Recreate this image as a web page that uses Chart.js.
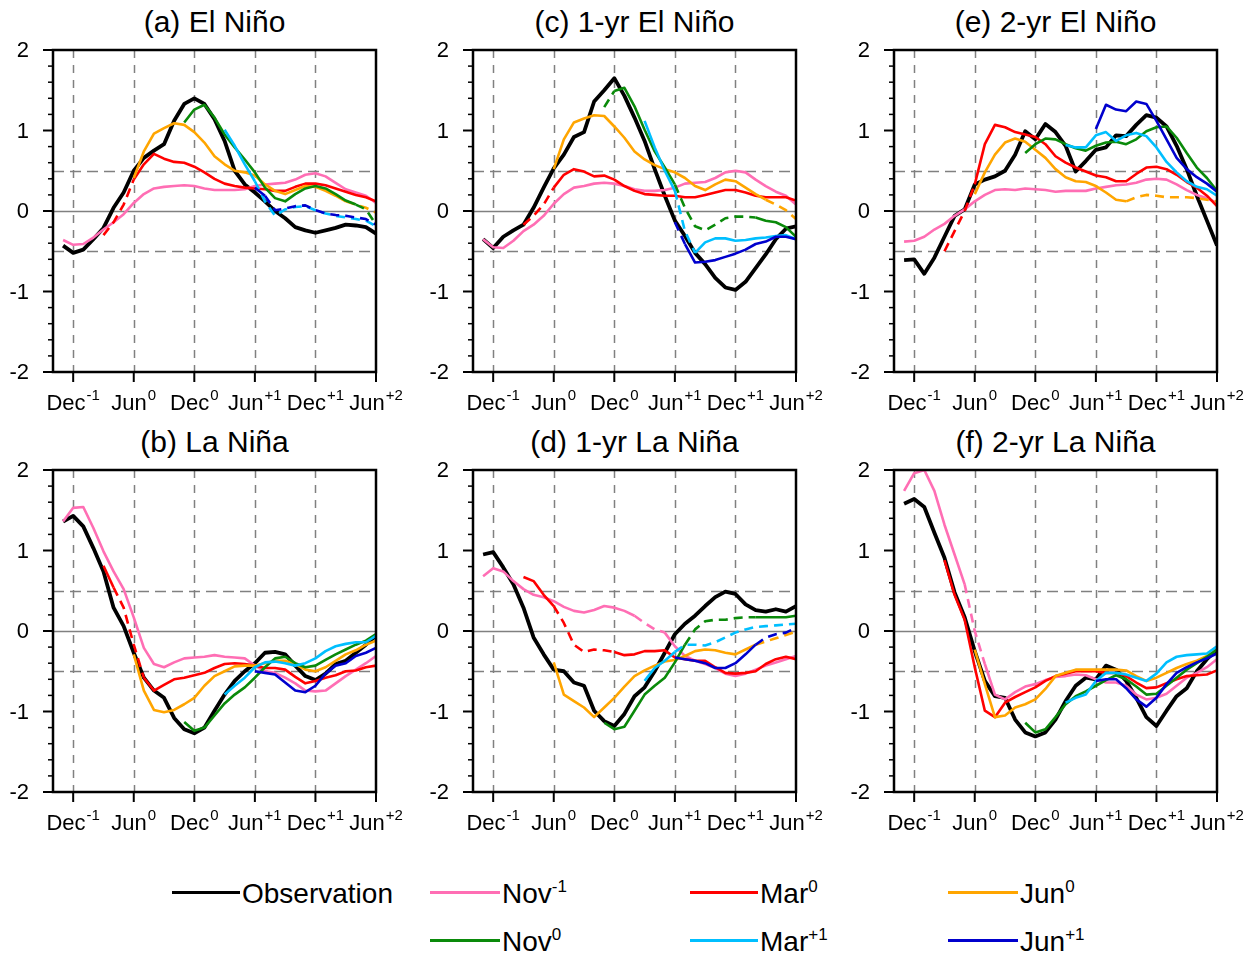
<!DOCTYPE html>
<html><head><meta charset="utf-8">
<script src="https://cdn.jsdelivr.net/npm/chart.js@4.4.1/dist/chart.umd.min.js"></script>
<style>
body{margin:0;background:#fff;width:1256px;height:955px;position:relative;overflow:hidden;font-family:"Liberation Sans",Arial,Helvetica,sans-serif;color:#000;}
canvas{position:absolute;}
.title{position:absolute;width:323px;text-align:center;font-size:30px;line-height:30px;white-space:nowrap;}
.legline{position:absolute;height:3px;}
.legtxt{position:absolute;font-size:28px;line-height:28px;white-space:nowrap;}
.legtxt sup{font-size:17px;vertical-align:11px;line-height:0;}
</style></head>
<body>
<script>
// ---- month axis: index 1..32 = Nov(-1) ... Jun(+2); axis runs 0 (Oct-1) .. 32 (Jun+2)
const monthLabels = ['Nov-1','Dec-1','Jan0','Feb0','Mar0','Apr0','May0','Jun0','Jul0','Aug0','Sep0','Oct0','Nov0','Dec0',
  'Jan+1','Feb+1','Mar+1','Apr+1','May+1','Jun+1','Jul+1','Aug+1','Sep+1','Oct+1','Nov+1','Dec+1',
  'Jan+2','Feb+2','Mar+2','Apr+2','May+2','Jun+2'];
const xTickPos  = [2, 8, 14, 20, 26, 32];
const xTickMain = ['Dec','Jun','Dec','Jun','Dec','Jun'];
const xTickSup  = ['-1','0','0','+1','+1','+2'];
const yTicks    = [-2, -1, 0, 1, 2];
const refLevels = [-0.5, 0, 0.5];

const seriesNames = ['Observation','Nov-1','Mar0','Jun0','Nov0','Mar+1','Jun+1'];
const seriesStart = ['Nov-1','Nov-1','Mar0','Jun0','Nov0','Mar+1','Jun+1'];

// ---- (a) El Niño
const aObs   = [-0.43,-0.52,-0.48,-0.35,-0.21,0.04,0.23,0.5,0.66,0.75,0.83,1.12,1.33,1.40,1.33,1.14,0.87,0.5,0.33,0.23,0.12,0,-0.09,-0.2,-0.24,-0.27,-0.24,-0.21,-0.17,-0.18,-0.2,-0.28];
const aNovM1 = [-0.36,-0.42,-0.41,-0.33,-0.23,-0.14,-0.04,0.1,0.21,0.28,0.30,0.31,0.32,0.31,0.28,0.26,0.26,0.26,0.27,0.31,0.33,0.34,0.35,0.39,0.45,0.47,0.43,0.35,0.27,0.23,0.19,0.1];
const aMar0  = [-0.3,-0.14,0.08,0.39,0.58,0.71,0.65,0.61,0.6,0.55,0.48,0.4,0.34,0.31,0.29,0.28,0.27,0.25,0.25,0.3,0.34,0.34,0.32,0.28,0.24,0.2,0.17,0.12];
const aJun0  = [0.41,0.74,0.96,1.03,1.09,1.07,0.98,0.85,0.68,0.58,0.5,0.48,0.44,0.33,0.25,0.21,0.26,0.31,0.30,0.25,0.19,0.12,0.08,0.04,-0.02];
const aNov0  = [1.1,1.26,1.32,1.16,0.95,0.79,0.64,0.48,0.29,0.16,0.12,0.21,0.28,0.31,0.28,0.21,0.13,0.08,0.02,-0.17];
const aMarP1 = [1.01,0.81,0.58,0.37,0.12,-0.06,0.02,0.05,0.06,0.01,-0.03,-0.06,-0.08,-0.1,-0.12,-0.19];
const aJunP1 = [0.29,0.19,0.01,0.03,0.06,0.07,0.01,-0.03,-0.05,-0.06,-0.08,-0.1,-0.17];
const aDash  = [[],[],[[5,8]],[[29,32]],[[30,32]],[[20,32]],[[21,32]]];

// ---- (c) 1-yr El Niño
const cObs   = [-0.35,-0.46,-0.32,-0.24,-0.17,0.04,0.29,0.53,0.70,0.92,0.98,1.36,1.5,1.65,1.43,1.16,0.87,0.52,0.19,-0.12,-0.31,-0.52,-0.66,-0.83,-0.95,-0.98,-0.88,-0.71,-0.54,-0.35,-0.22,-0.19];
const cNovM1 = [-0.35,-0.45,-0.46,-0.37,-0.25,-0.17,-0.06,0.09,0.21,0.29,0.31,0.34,0.35,0.34,0.31,0.27,0.25,0.25,0.26,0.29,0.34,0.35,0.36,0.41,0.48,0.5,0.48,0.39,0.31,0.24,0.19,0.08];
const cMar0  = [-0.17,-0.06,0.08,0.29,0.45,0.52,0.49,0.43,0.44,0.39,0.31,0.25,0.21,0.2,0.19,0.19,0.17,0.17,0.2,0.23,0.26,0.26,0.23,0.19,0.17,0.17,0.17,0.13];
const cJun0  = [0.52,0.89,1.1,1.15,1.19,1.18,1.05,0.91,0.74,0.64,0.57,0.52,0.48,0.41,0.31,0.26,0.33,0.39,0.37,0.29,0.21,0.14,0.08,0.01,-0.1];
const cNov0  = [1.29,1.49,1.53,1.3,1.01,0.74,0.54,0.33,0.04,-0.19,-0.24,-0.17,-0.09,-0.07,-0.07,-0.08,-0.12,-0.14,-0.2,-0.32];
const cMarP1 = [1.12,0.79,0.5,0.25,-0.25,-0.52,-0.39,-0.34,-0.34,-0.37,-0.36,-0.34,-0.33,-0.31,-0.3,-0.35];
const cJunP1 = [-0.14,-0.41,-0.64,-0.63,-0.61,-0.57,-0.53,-0.48,-0.41,-0.38,-0.32,-0.32,-0.35];
const cDash  = [[],[],[[5,8]],[[29,32]],[[13,14],[20,28]],[[20,22]],[[20,21]]];

// ---- (e) 2-yr El Niño
const eObs   = [-0.61,-0.6,-0.78,-0.58,-0.32,-0.06,0.02,0.33,0.39,0.43,0.5,0.7,0.99,0.89,1.08,0.98,0.81,0.49,0.62,0.76,0.79,0.94,0.93,1.07,1.19,1.16,1.05,0.81,0.52,0.19,-0.12,-0.43];
const eNovM1 = [-0.38,-0.37,-0.32,-0.23,-0.16,-0.06,0.02,0.12,0.2,0.26,0.27,0.26,0.28,0.27,0.26,0.24,0.25,0.25,0.25,0.28,0.3,0.32,0.33,0.35,0.39,0.4,0.39,0.33,0.26,0.2,0.16,0.1];
const eMar0  = [-0.5,-0.25,0,0.33,0.83,1.07,1.04,0.98,0.95,0.92,0.83,0.68,0.6,0.54,0.49,0.44,0.42,0.37,0.37,0.46,0.54,0.55,0.52,0.45,0.36,0.29,0.19,0.06];
const eJun0  = [0.21,0.48,0.7,0.85,0.9,0.86,0.76,0.66,0.52,0.42,0.37,0.36,0.31,0.23,0.14,0.12,0.17,0.2,0.19,0.17,0.17,0.17,0.16,0.14,0.12];
const eNov0  = [0.72,0.83,0.9,0.89,0.83,0.78,0.75,0.81,0.85,0.86,0.83,0.89,0.99,1.04,1.05,0.91,0.72,0.54,0.41,0.25];
const eMarP1 = [0.82,0.79,0.79,0.94,0.98,0.87,0.94,0.97,0.93,0.79,0.61,0.48,0.37,0.3,0.27,0.19];
const eJunP1 = [1.02,1.32,1.26,1.24,1.36,1.33,1.12,0.89,0.66,0.52,0.42,0.34,0.24];
const eDash  = [[],[],[[5,8]],[[23,32]],[],[],[]];

// ---- (b) La Niña
const bObs   = [1.36,1.43,1.3,1.03,0.74,0.29,0.06,-0.27,-0.58,-0.74,-0.83,-1.08,-1.22,-1.27,-1.2,-0.99,-0.79,-0.62,-0.5,-0.4,-0.27,-0.26,-0.29,-0.43,-0.56,-0.61,-0.53,-0.41,-0.37,-0.27,-0.17,-0.06];
const bNovM1 = [1.36,1.53,1.54,1.28,0.99,0.74,0.52,0.17,-0.21,-0.41,-0.45,-0.39,-0.34,-0.33,-0.32,-0.3,-0.32,-0.33,-0.34,-0.43,-0.5,-0.52,-0.58,-0.65,-0.74,-0.75,-0.74,-0.65,-0.56,-0.48,-0.4,-0.31];
const bMar0  = [0.81,0.54,0.29,-0.17,-0.58,-0.74,-0.67,-0.6,-0.58,-0.55,-0.52,-0.46,-0.41,-0.4,-0.41,-0.43,-0.46,-0.46,-0.48,-0.57,-0.65,-0.62,-0.58,-0.55,-0.5,-0.49,-0.45,-0.43];
const bJun0  = [-0.29,-0.74,-0.98,-1.01,-0.98,-0.91,-0.83,-0.68,-0.56,-0.5,-0.44,-0.43,-0.43,-0.4,-0.37,-0.37,-0.41,-0.48,-0.5,-0.45,-0.37,-0.29,-0.24,-0.17,-0.12];
const bNov0  = [-1.13,-1.24,-1.2,-1.05,-0.9,-0.79,-0.7,-0.58,-0.45,-0.34,-0.32,-0.4,-0.45,-0.43,-0.36,-0.29,-0.23,-0.17,-0.12,-0.04];
const bMarP1 = [-0.79,-0.68,-0.58,-0.45,-0.39,-0.38,-0.4,-0.43,-0.4,-0.34,-0.25,-0.19,-0.16,-0.14,-0.14,-0.06];
const bJunP1 = [-0.5,-0.52,-0.54,-0.64,-0.74,-0.76,-0.68,-0.53,-0.43,-0.4,-0.31,-0.27,-0.21];
const bDash  = [[],[],[[6,9]],[],[],[],[]];

// ---- (d) 1-yr La Niña
const dObs   = [0.95,0.98,0.79,0.58,0.29,-0.08,-0.29,-0.48,-0.5,-0.64,-0.68,-0.99,-1.12,-1.18,-1.03,-0.81,-0.7,-0.5,-0.27,-0.04,0.09,0.19,0.31,0.42,0.49,0.46,0.33,0.26,0.24,0.27,0.24,0.31];
const dNovM1 = [0.68,0.78,0.74,0.62,0.52,0.45,0.42,0.37,0.3,0.25,0.23,0.26,0.31,0.29,0.25,0.19,0.1,0.02,-0.02,-0.19,-0.31,-0.37,-0.41,-0.46,-0.53,-0.56,-0.53,-0.48,-0.43,-0.39,-0.35,-0.31];
const dMar0  = [0.67,0.62,0.45,0.31,0.1,-0.17,-0.26,-0.23,-0.24,-0.26,-0.3,-0.29,-0.25,-0.25,-0.24,-0.33,-0.35,-0.37,-0.37,-0.45,-0.52,-0.53,-0.52,-0.5,-0.41,-0.35,-0.32,-0.35];
const dJun0  = [-0.39,-0.79,-0.87,-0.95,-1.07,-0.95,-0.83,-0.69,-0.56,-0.49,-0.43,-0.38,-0.36,-0.31,-0.25,-0.23,-0.24,-0.27,-0.29,-0.23,-0.17,-0.13,-0.09,-0.05,-0.01];
const dNov0  = [-1.14,-1.22,-1.19,-0.99,-0.79,-0.68,-0.58,-0.39,-0.17,0.02,0.12,0.14,0.14,0.16,0.17,0.17,0.17,0.17,0.17,0.19];
const dMarP1 = [-0.62,-0.46,-0.37,-0.26,-0.17,-0.17,-0.18,-0.14,-0.08,-0.02,0.02,0.05,0.06,0.07,0.08,0.09];
const dJunP1 = [-0.33,-0.35,-0.37,-0.4,-0.46,-0.46,-0.4,-0.29,-0.17,-0.08,-0.04,-0.02,0.04];
const dDash  = [[],[[16,19]],[[8,14]],[[28,32]],[[21,28]],[[20,32]],[[28,32]]];

// ---- (f) 2-yr La Niña
const fObs   = [1.58,1.64,1.54,1.22,0.91,0.48,0.17,-0.25,-0.62,-0.81,-0.83,-1.1,-1.26,-1.31,-1.26,-1.1,-0.87,-0.68,-0.58,-0.6,-0.43,-0.48,-0.62,-0.83,-1.07,-1.18,-0.99,-0.81,-0.71,-0.5,-0.35,-0.23];
const fNovM1 = [1.74,1.96,2.0,1.74,1.32,0.95,0.58,0,-0.41,-0.79,-0.85,-0.76,-0.69,-0.66,-0.61,-0.57,-0.56,-0.54,-0.55,-0.6,-0.64,-0.64,-0.68,-0.79,-0.85,-0.83,-0.78,-0.68,-0.58,-0.52,-0.45,-0.35];
const fMar0  = [0.88,0.45,0.14,-0.45,-0.99,-1.07,-0.89,-0.82,-0.76,-0.7,-0.62,-0.56,-0.53,-0.5,-0.5,-0.5,-0.52,-0.52,-0.56,-0.64,-0.71,-0.7,-0.65,-0.6,-0.56,-0.55,-0.54,-0.49];
const fJun0  = [-0.23,-0.66,-1.07,-1.05,-0.95,-0.91,-0.85,-0.72,-0.56,-0.52,-0.48,-0.48,-0.48,-0.48,-0.48,-0.49,-0.56,-0.62,-0.58,-0.52,-0.46,-0.41,-0.37,-0.31,-0.23];
const fNov0  = [-1.14,-1.26,-1.22,-1.07,-0.91,-0.81,-0.75,-0.68,-0.61,-0.55,-0.6,-0.69,-0.79,-0.78,-0.68,-0.58,-0.48,-0.4,-0.32,-0.23];
const fMarP1 = [-0.89,-0.83,-0.79,-0.62,-0.52,-0.52,-0.54,-0.58,-0.62,-0.53,-0.39,-0.32,-0.3,-0.29,-0.28,-0.19];
const fJunP1 = [-0.62,-0.6,-0.6,-0.71,-0.85,-0.94,-0.83,-0.66,-0.52,-0.45,-0.39,-0.34,-0.28];
const fDash  = [[],[[7,9]],[],[],[],[],[]];

// ---- styles
const seriesColor = ['#000000','#ff6eb4','#ff0000','#ffa500','#0a8a0a','#00bfff','#0000cd'];
const seriesWidth = [3.8, 2.6, 2.6, 2.6, 2.6, 2.6, 2.6];
const FONT = '"Liberation Sans", Arial, Helvetica, sans-serif';

const panels = [
  {title:'(a) El Niño',       left:53,  top:50,  series:[aObs,aNovM1,aMar0,aJun0,aNov0,aMarP1,aJunP1], dash:aDash},
  {title:'(c) 1-yr El Niño',  left:473, top:50,  series:[cObs,cNovM1,cMar0,cJun0,cNov0,cMarP1,cJunP1], dash:cDash},
  {title:'(e) 2-yr El Niño',  left:894, top:50,  series:[eObs,eNovM1,eMar0,eJun0,eNov0,eMarP1,eJunP1], dash:eDash},
  {title:'(b) La Niña',       left:53,  top:470, series:[bObs,bNovM1,bMar0,bJun0,bNov0,bMarP1,bJunP1], dash:bDash},
  {title:'(d) 1-yr La Niña',  left:473, top:470, series:[dObs,dNovM1,dMar0,dJun0,dNov0,dMarP1,dJunP1], dash:dDash},
  {title:'(f) 2-yr La Niña',  left:894, top:470, series:[fObs,fNovM1,fMar0,fJun0,fNov0,fMarP1,fJunP1], dash:fDash},
];

const PW = 323, PH = 322; // plot area size
const PAD_L = 50, PAD_T = 10, PAD_R = 30, PAD_B = 50;

const framePlugin = {
  id: 'frame',
  beforeDatasetsDraw(chart) {
    const {ctx, chartArea: a, scales: {x, y}} = chart;
    ctx.save();
    ctx.beginPath(); ctx.rect(a.left, a.top, a.right - a.left, a.bottom - a.top); ctx.clip();
    ctx.strokeStyle = '#808080'; ctx.lineWidth = 1.5;
    ctx.setLineDash([8, 7]);
    xTickPos.forEach(v => {
      const px = Math.round(x.getPixelForValue(v)) + 0.5;
      ctx.beginPath(); ctx.moveTo(px, a.top); ctx.lineTo(px, a.bottom); ctx.stroke();
    });
    refLevels.forEach(v => {
      const py = Math.round(y.getPixelForValue(v)) + 0.5;
      ctx.setLineDash(v === 0 ? [] : [11, 6]);
      ctx.beginPath(); ctx.moveTo(a.left, py); ctx.lineTo(a.right, py); ctx.stroke();
    });
    ctx.restore();
  },
  afterDraw(chart) {
    const {ctx, chartArea: a, scales: {x, y}} = chart;
    ctx.save();
    ctx.strokeStyle = '#000'; ctx.setLineDash([]);
    // y ticks: major (10px) and minor (5px), outward
    for (let k = -10; k <= 10; k++) {
      const major = k % 5 === 0;
      const py = y.getPixelForValue(k / 5);
      ctx.lineWidth = major ? 2 : 1.5;
      ctx.beginPath(); ctx.moveTo(a.left - (major ? 10 : 5), py); ctx.lineTo(a.left, py); ctx.stroke();
    }
    // x ticks (outward)
    ctx.lineWidth = 2;
    xTickPos.forEach(v => {
      const px = x.getPixelForValue(v);
      ctx.beginPath(); ctx.moveTo(px, a.bottom); ctx.lineTo(px, a.bottom + 10); ctx.stroke();
    });
    // frame
    ctx.lineWidth = 2.5;
    ctx.strokeRect(a.left, a.top, a.right - a.left, a.bottom - a.top);
    // y labels
    ctx.fillStyle = '#000';
    ctx.font = '22px ' + FONT; ctx.textAlign = 'right'; ctx.textBaseline = 'middle';
    yTicks.forEach(v => {
      ctx.fillText(String(v), a.left - 24, y.getPixelForValue(v) + 1);
    });
    // x labels with superscripts
    ctx.textBaseline = 'alphabetic'; ctx.textAlign = 'left';
    const base = a.bottom + 38;
    xTickPos.forEach((v, i) => {
      const px = x.getPixelForValue(v);
      ctx.font = '22px ' + FONT;
      const wm = ctx.measureText(xTickMain[i]).width;
      ctx.font = '15px ' + FONT;
      const ws = ctx.measureText(xTickSup[i]).width;
      const x0 = px - (wm + ws + 1) / 2;
      ctx.font = '22px ' + FONT;
      ctx.fillText(xTickMain[i], x0, base);
      ctx.font = '15px ' + FONT;
      ctx.fillText(xTickSup[i], x0 + wm + 1, base - 10);
    });
    ctx.restore();
  }
};

function inSpan(spans, x0, x1) {
  return spans.some(([s, e]) => x0 >= s && x1 <= e);
}

panels.forEach((p) => {
  const cv = document.createElement('canvas');
  cv.width = PAD_L + PW + PAD_R; cv.height = PAD_T + PH + PAD_B;
  cv.style.left = (p.left - PAD_L) + 'px'; cv.style.top = (p.top - PAD_T) + 'px';
  cv.style.width = cv.width + 'px'; cv.style.height = cv.height + 'px';
  document.body.appendChild(cv);

  const t = document.createElement('div');
  t.className = 'title'; t.textContent = p.title;
  t.style.left = p.left + 'px'; t.style.top = (p.top - 43) + 'px';
  document.body.appendChild(t);

  const datasets = p.series.map((vals, si) => {
    const start = monthLabels.indexOf(seriesStart[si]) + 1;
    const spans = p.dash[si];
    return {
      label: seriesNames[si],
      data: vals.map((v, k) => ({x: start + k, y: v})),
      borderColor: seriesColor[si],
      borderWidth: seriesWidth[si],
      pointRadius: 0, tension: 0, fill: false,
      borderCapStyle: 'butt', borderJoinStyle: 'round',
      order: 10 - si,
      segment: { borderDash: ctx => inSpan(spans, ctx.p0.parsed.x, ctx.p1.parsed.x) ? [9, 6] : undefined }
    };
  });

  new Chart(cv, {
    type: 'line',
    data: { datasets },
    plugins: [framePlugin],
    options: {
      responsive: false, animation: false, devicePixelRatio: 1,
      layout: { padding: {left: 0, top: PAD_T, right: PAD_R, bottom: 0}, autoPadding: false },
      plugins: { legend: {display: false}, tooltip: {enabled: false}, title: {display: false} },
      scales: {
        x: {
          type: 'linear', min: 0, max: 32,
          afterBuildTicks: s => { s.ticks = xTickPos.map(v => ({value: v})); },
          afterFit: s => { s.height = PAD_B; },
          ticks: { display: false },
          grid: { display: false },
          border: { display: false }
        },
        y: {
          type: 'linear', min: -2, max: 2,
          afterBuildTicks: s => { s.ticks = yTicks.map(v => ({value: v})); },
          afterFit: s => { s.width = PAD_L; },
          ticks: { display: false },
          grid: { display: false },
          border: { display: false }
        }
      }
    }
  });
});

// ---- legend (HTML text)
const legendItems = [
  {name:'Observation', sup:'',   x1:172, x2:240, y:892, ci:0},
  {name:'Nov',         sup:'-1', x1:430, x2:500, y:892, ci:1},
  {name:'Mar',         sup:'0',  x1:690, x2:758, y:892, ci:2},
  {name:'Jun',         sup:'0',  x1:948, x2:1018, y:892, ci:3},
  {name:'Nov',         sup:'0',  x1:430, x2:500, y:940, ci:4},
  {name:'Mar',         sup:'+1', x1:690, x2:758, y:940, ci:5},
  {name:'Jun',         sup:'+1', x1:948, x2:1018, y:940, ci:6},
];
legendItems.forEach(it => {
  const l = document.createElement('div');
  l.className = 'legline';
  l.style.left = it.x1 + 'px'; l.style.width = (it.x2 - it.x1) + 'px';
  l.style.top = (it.y - 1.5) + 'px'; l.style.background = seriesColor[it.ci];
  document.body.appendChild(l);
  const s = document.createElement('div');
  s.className = 'legtxt';
  s.style.left = (it.x2 + 2) + 'px'; s.style.top = (it.y - 12) + 'px';
  s.innerHTML = it.name + (it.sup ? '<sup>' + it.sup + '</sup>' : '');
  document.body.appendChild(s);
});
</script>
</body></html>
